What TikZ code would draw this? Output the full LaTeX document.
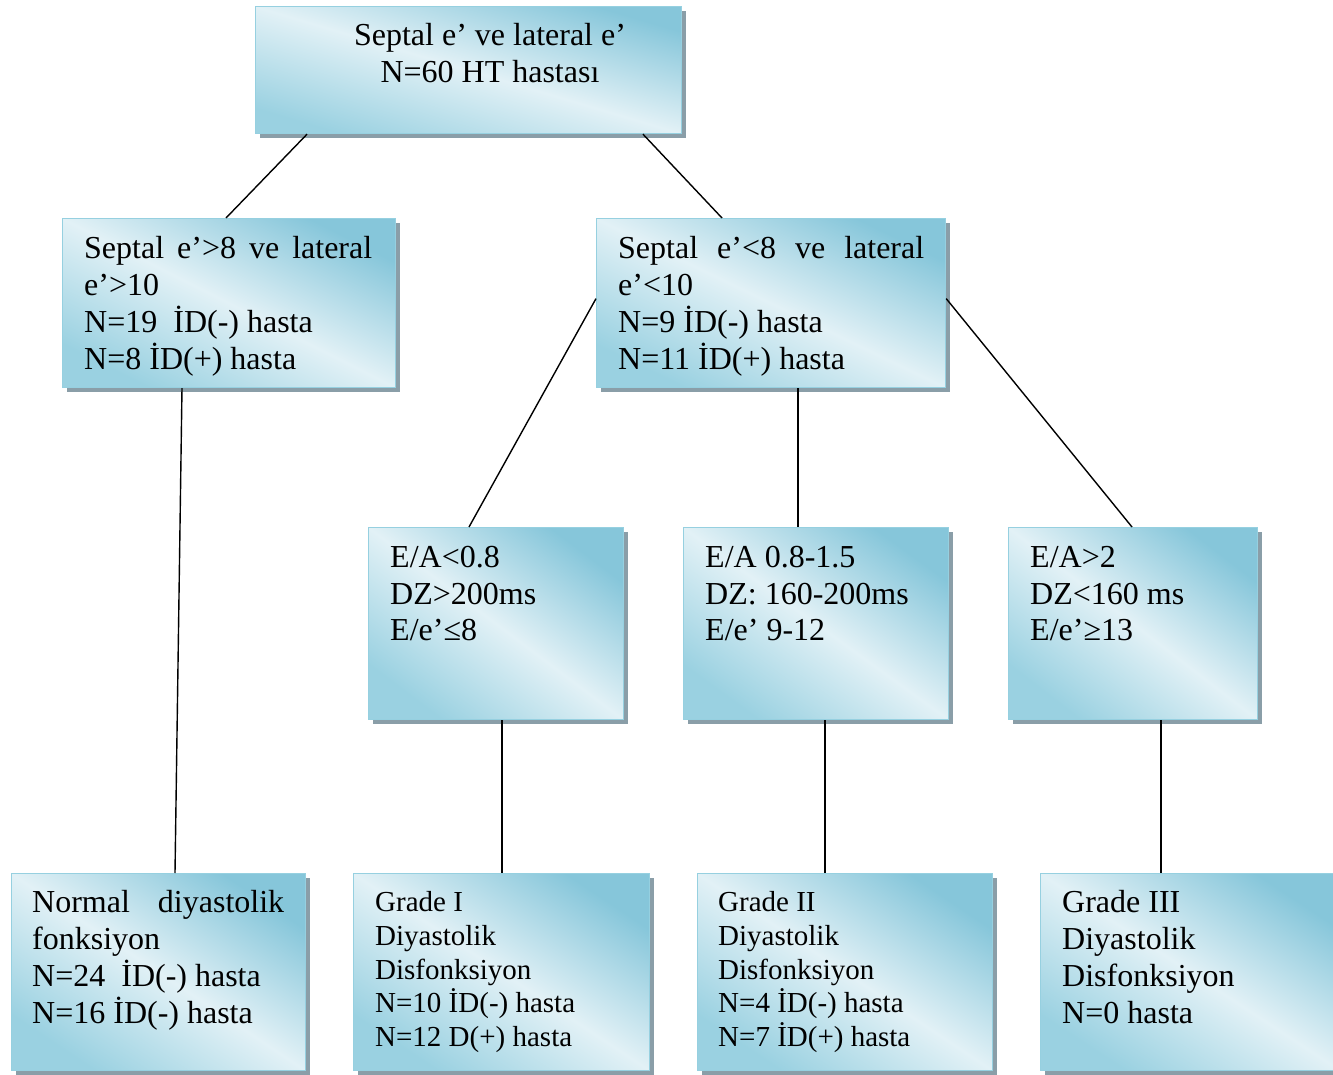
\documentclass[tikz,border=0pt]{standalone}
\usepackage{fontspec}
\setmainfont{Liberation Serif}
\usetikzlibrary{shadows}
\definecolor{bdark}{RGB}{134,198,218}
\definecolor{blight}{RGB}{226,241,246}
\definecolor{bmid}{RGB}{154,209,225}
\definecolor{bborder}{RGB}{150,208,224}
\definecolor{bshadow}{RGB}{138,158,168}
\tikzset{
  box/.style={rectangle, anchor=north west, inner sep=0pt, draw=bborder, line width=1.2pt,
    top color=bdark, bottom color=bmid, middle color=blight, shading angle=#1,
    drop shadow={shadow xshift=4pt, shadow yshift=-4pt, fill=bshadow, opacity=1}},
  box/.default=-45,
  txt/.style={anchor=base west, inner sep=0pt, align=left, font=\fontsize{32}{37}\selectfont},
  txtm/.style={anchor=base west, inner sep=0pt, align=left, font=\fontsize{32}{36.5}\selectfont},
  txts/.style={anchor=base west, inner sep=0pt, align=left, font=\fontsize{29}{33.75}\selectfont},
  link/.style={draw=black, line width=1.4pt}
}
\begin{document}
\begin{tikzpicture}[x=1pt, y=-1pt]
\useasboundingbox (0,0) rectangle (1333,1075);
% boxes
\node[box=-16.6, minimum width=426pt, minimum height=127pt] (top) at (255,6) {};
\node[box=-26.9, minimum width=333pt, minimum height=169pt] (L1) at (62,218) {};
\node[box=-25.8, minimum width=349pt, minimum height=169pt] (R1) at (596,218) {};
\node[box=-37.0, minimum width=255pt, minimum height=192pt] (M1) at (368,527) {};
\node[box=-35.9, minimum width=265pt, minimum height=192pt] (M2) at (683,527) {};
\node[box=-37.6, minimum width=249pt, minimum height=192pt] (M3) at (1008,527) {};
\node[box=-33.8, minimum width=294pt, minimum height=197pt] (B1) at (11,873) {};
\node[box=-33.6, minimum width=296pt, minimum height=197pt] (B2) at (353,873) {};
\node[box=-33.7, minimum width=295pt, minimum height=197pt] (B3) at (697,873) {};
\node[box=-33.3, minimum width=300pt, minimum height=197pt] (B4) at (1040,873) {};
% texts (anchor base = baseline of the last line)
\node[txt, anchor=base, align=center] (topT) at (490,82.5) {Septal e’ ve lateral e’\\N=60 HT hastası};
\node[txt] (L1T) at (84,369) {\makebox[288pt][s]{Septal e’>8 ve lateral}\\e’>10\\N=19\ \ İD(-) hasta\\N=8 İD(+) hasta};
\node[txt] (R1T) at (618,369) {\makebox[306pt][s]{Septal e’<8 ve lateral}\\e’<10\\N=9 İD(-) hasta\\N=11 İD(+) hasta};
\node[txtm] (M1T) at (390,640.5) {E/A<0.8\\DZ>200ms\\E/e’≤8};
\node[txtm] (M2T) at (705,640.5) {E/A 0.8-1.5\\DZ: 160-200ms\\E/e’ 9-12};
\node[txtm] (M3T) at (1030,640.5) {E/A>2\\DZ<160 ms\\E/e’≥13};
\node[txt] (B1T) at (32,1023) {\makebox[252pt][s]{Normal diyastolik}\\fonksiyon\\N=24\ \ İD(-) hasta\\N=16 İD(-) hasta};
\node[txts] (B2T) at (375,1046.5) {Grade I\\Diyastolik\\Disfonksiyon\\N=10 İD(-) hasta\\N=12 D(+) hasta};
\node[txts] (B3T) at (718,1046.5) {Grade II\\Diyastolik\\Disfonksiyon\\N=4 İD(-) hasta\\N=7 İD(+) hasta};
\node[txt] (B4T) at (1062,1023) {Grade III\\Diyastolik\\Disfonksiyon\\N=0 hasta};
% connectors
\draw[link] ([xshift=52pt]top.south west) -- ([xshift=164pt]L1.north west);
\draw[link] ([xshift=388pt]top.south west) -- ([xshift=126pt]R1.north west);
\draw[link] ([xshift=120pt]L1.south west) -- ([xshift=164pt]B1.north west);
\draw[link] ([yshift=4.5pt]R1.west) -- ([xshift=101pt]M1.north west);
\draw[link] ([xshift=202pt]R1.south west) -- ([xshift=115pt]M2.north west);
\draw[link] ([yshift=4.5pt]R1.east) -- ([xshift=124pt]M3.north west);
\draw[link] ([xshift=134pt]M1.south west) -- ([xshift=149pt]B2.north west);
\draw[link] ([xshift=142pt]M2.south west) -- ([xshift=128pt]B3.north west);
\draw[link] ([xshift=153pt]M3.south west) -- ([xshift=121pt]B4.north west);
\end{tikzpicture}
\end{document}
